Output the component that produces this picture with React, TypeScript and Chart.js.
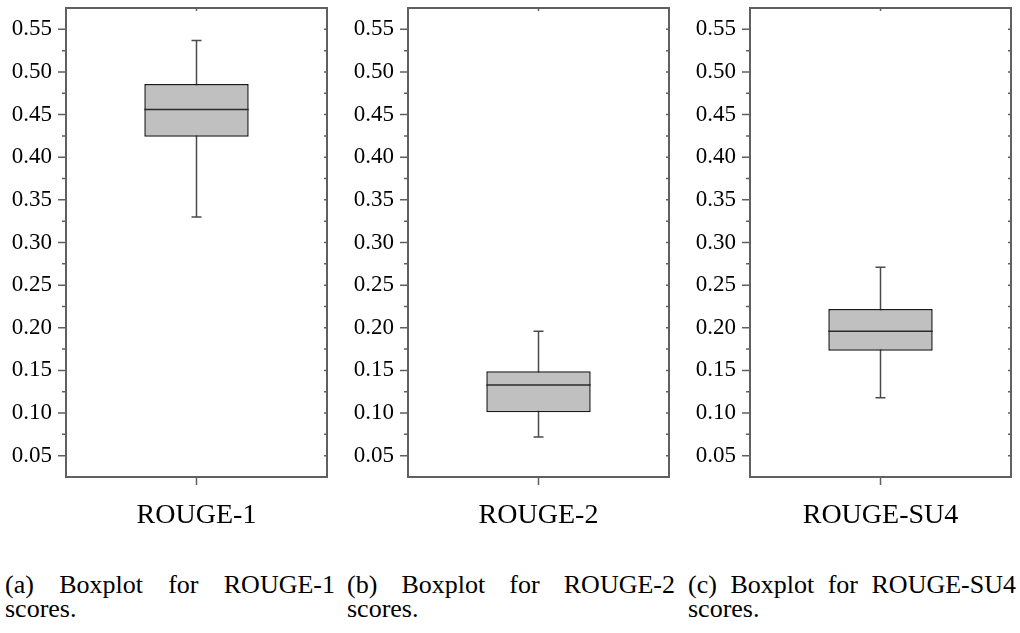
import React, { useEffect, useRef } from "react";
import { Chart, registerables } from "chart.js";

Chart.register(...registerables);

const CATEGORIES = ["ROUGE-1", "ROUGE-2", "ROUGE-SU4"];
const WHISKER_LOW = [0.33, 0.072, 0.118];
const Q1 = [0.424, 0.101, 0.173];
const MEDIAN = [0.456, 0.133, 0.196];
const Q3 = [0.486, 0.149, 0.222];
const WHISKER_HIGH = [0.537, 0.196, 0.271];
const Y_MIN = 0.025;
const Y_MAX = 0.575;
const MAJOR_TICKS = [0.05, 0.1, 0.15, 0.2, 0.25, 0.3, 0.35, 0.4, 0.45, 0.5, 0.55];
const MINOR_TICKS = [0.075, 0.125, 0.175, 0.225, 0.275, 0.325, 0.375, 0.425, 0.475, 0.525];
const CAPTION_LINE1 = [
  ["(a)", "Boxplot", "for", "ROUGE-1"],
  ["(b)", "Boxplot", "for", "ROUGE-2"],
  ["(c)", "Boxplot", "for", "ROUGE-SU4"],
];
const CAPTION_LINE2 = ["scores.", "scores.", "scores."];

const PANEL_LEFT = [0, 342, 684];
const CAPTION_LEFT = [5, 347, 688];
const CAPTION_WIDTH = [330, 328, 328];

const FRAME = "#606060";
const SERIF = "'Liberation Serif', serif";

const boxExtras = {
  id: "boxExtras",
  beforeDatasetsDraw(chart: any) {
    const i = chart.options.plugins.boxExtras.index;
    const { ctx } = chart;
    const ys = chart.scales.y;
    const bar = chart.getDatasetMeta(0).data[0];
    const cx = bar.x;
    const yHi = ys.getPixelForValue(WHISKER_HIGH[i]);
    const yLo = ys.getPixelForValue(WHISKER_LOW[i]);
    ctx.save();
    ctx.strokeStyle = "#4a4a4a";
    ctx.lineWidth = 1.5;
    ctx.beginPath();
    ctx.moveTo(cx, yHi);
    ctx.lineTo(cx, yLo);
    ctx.moveTo(cx - 5, yHi);
    ctx.lineTo(cx + 5, yHi);
    ctx.moveTo(cx - 5, yLo);
    ctx.lineTo(cx + 5, yLo);
    ctx.stroke();
    ctx.restore();
  },
  afterDatasetsDraw(chart: any) {
    const i = chart.options.plugins.boxExtras.index;
    const { ctx } = chart;
    const ys = chart.scales.y;
    const bar = chart.getDatasetMeta(0).data[0];
    const ym = ys.getPixelForValue(MEDIAN[i]);
    ctx.save();
    ctx.strokeStyle = "#2a2a2a";
    ctx.lineWidth = 1.5;
    ctx.beginPath();
    ctx.moveTo(bar.x - bar.width / 2, ym);
    ctx.lineTo(bar.x + bar.width / 2, ym);
    ctx.stroke();
    ctx.restore();
  },
  afterDraw(chart: any) {
    const { ctx, chartArea } = chart;
    const { left, right, top, bottom } = chartArea;
    const ys = chart.scales.y;
    const bar = chart.getDatasetMeta(0).data[0];
    ctx.save();
    ctx.strokeStyle = FRAME;
    ctx.lineWidth = 2;
    ctx.strokeRect(left, top, right - left, bottom - top);
    ctx.lineWidth = 1.5;
    ctx.beginPath();
    MAJOR_TICKS.forEach((v) => {
      const y = ys.getPixelForValue(v);
      ctx.moveTo(left - 8, y);
      ctx.lineTo(left, y);
      ctx.moveTo(right - 3, y);
      ctx.lineTo(right, y);
    });
    MINOR_TICKS.forEach((v) => {
      const y = ys.getPixelForValue(v);
      ctx.moveTo(left - 4, y);
      ctx.lineTo(left, y);
      ctx.moveTo(right - 3, y);
      ctx.lineTo(right, y);
    });
    ctx.moveTo(bar.x, bottom);
    ctx.lineTo(bar.x, bottom + 8);
    ctx.moveTo(bar.x, top);
    ctx.lineTo(bar.x, top + 3);
    ctx.stroke();
    ctx.restore();
  },
};

function Panel({ index }: { index: number }) {
  const ref = useRef<HTMLCanvasElement>(null);
  useEffect(() => {
    let chart: any = null;
    let cancelled = false;
    const build = () => {
      if (cancelled || !ref.current) return;
      chart = new Chart(ref.current as HTMLCanvasElement, {
        type: "bar",
        data: {
          labels: [CATEGORIES[index]],
          datasets: [
            {
              data: [[Q1[index], Q3[index]]] as any,
              backgroundColor: "#c0c0c0",
              borderColor: "#1a1a1a",
              borderWidth: 1.5,
              borderSkipped: false,
              barPercentage: 0.4,
              categoryPercentage: 1,
            },
          ],
        },
        options: {
          animation: false,
          responsive: false,
          maintainAspectRatio: false,
          layout: { padding: { top: 8, right: 13, left: 0, bottom: 0 } },
          plugins: {
            legend: { display: false },
            tooltip: { enabled: false },
            boxExtras: { index },
          } as any,
          scales: {
            x: {
              grid: { display: false },
              border: { display: false },
              ticks: {
                color: "#000",
                padding: 14,
                font: { family: SERIF, size: 28 },
              },
              afterFit(scale: any) {
                scale.height = 63;
                scale.paddingLeft = 0;
                scale.paddingRight = 0;
              },
            },
            y: {
              min: Y_MIN,
              max: Y_MAX,
              grid: {
                display: true,
                drawOnChartArea: false,
                drawTicks: true,
                tickLength: 8,
                color: "rgba(0,0,0,0)",
              },
              border: { display: false },
              afterBuildTicks(scale: any) {
                scale.ticks = MAJOR_TICKS.map((v) => ({ value: v }));
              },
              ticks: {
                color: "#000",
                padding: 6,
                font: { family: SERIF, size: 23 },
                callback: (v: any) => Number(v).toFixed(2),
              },
              afterFit(scale: any) {
                scale.width = 66;
                scale.paddingTop = 0;
                scale.paddingBottom = 0;
              },
            },
          },
        },
        plugins: [boxExtras],
      });
    };
    const fonts: any = (document as any).fonts;
    if (fonts && fonts.load) {
      Promise.all([
        fonts.load("23px 'Liberation Serif'"),
        fonts.load("28px 'Liberation Serif'"),
      ]).then(build, build);
    } else {
      build();
    }
    return () => {
      cancelled = true;
      if (chart) chart.destroy();
    };
  }, [index]);
  return (
    <canvas
      ref={ref}
      width={340}
      height={540}
      style={{ position: "absolute", left: PANEL_LEFT[index], top: 0, width: 340, height: 540 }}
    />
  );
}

export default function App() {
  return (
    <div
      style={{
        position: "fixed",
        left: 0,
        top: 0,
        width: 1020,
        height: 633,
        background: "#fff",
        overflow: "hidden",
      }}
    >
      {[0, 1, 2].map((i) => (
        <Panel key={i} index={i} />
      ))}
      {[0, 1, 2].map((i) => (
        <div
          key={"c" + i}
          style={{
            position: "absolute",
            left: CAPTION_LEFT[i],
            top: 573,
            width: CAPTION_WIDTH[i],
            fontFamily: "'Liberation Serif', serif",
            fontSize: 26,
            lineHeight: "24px",
            color: "#000",
          }}
        >
          <div style={{ display: "flex", justifyContent: "space-between", whiteSpace: "nowrap" }}>
            {CAPTION_LINE1[i].map((w, k) => (
              <span key={k}>{w}</span>
            ))}
          </div>
          <div>{CAPTION_LINE2[i]}</div>
        </div>
      ))}
    </div>
  );
}
